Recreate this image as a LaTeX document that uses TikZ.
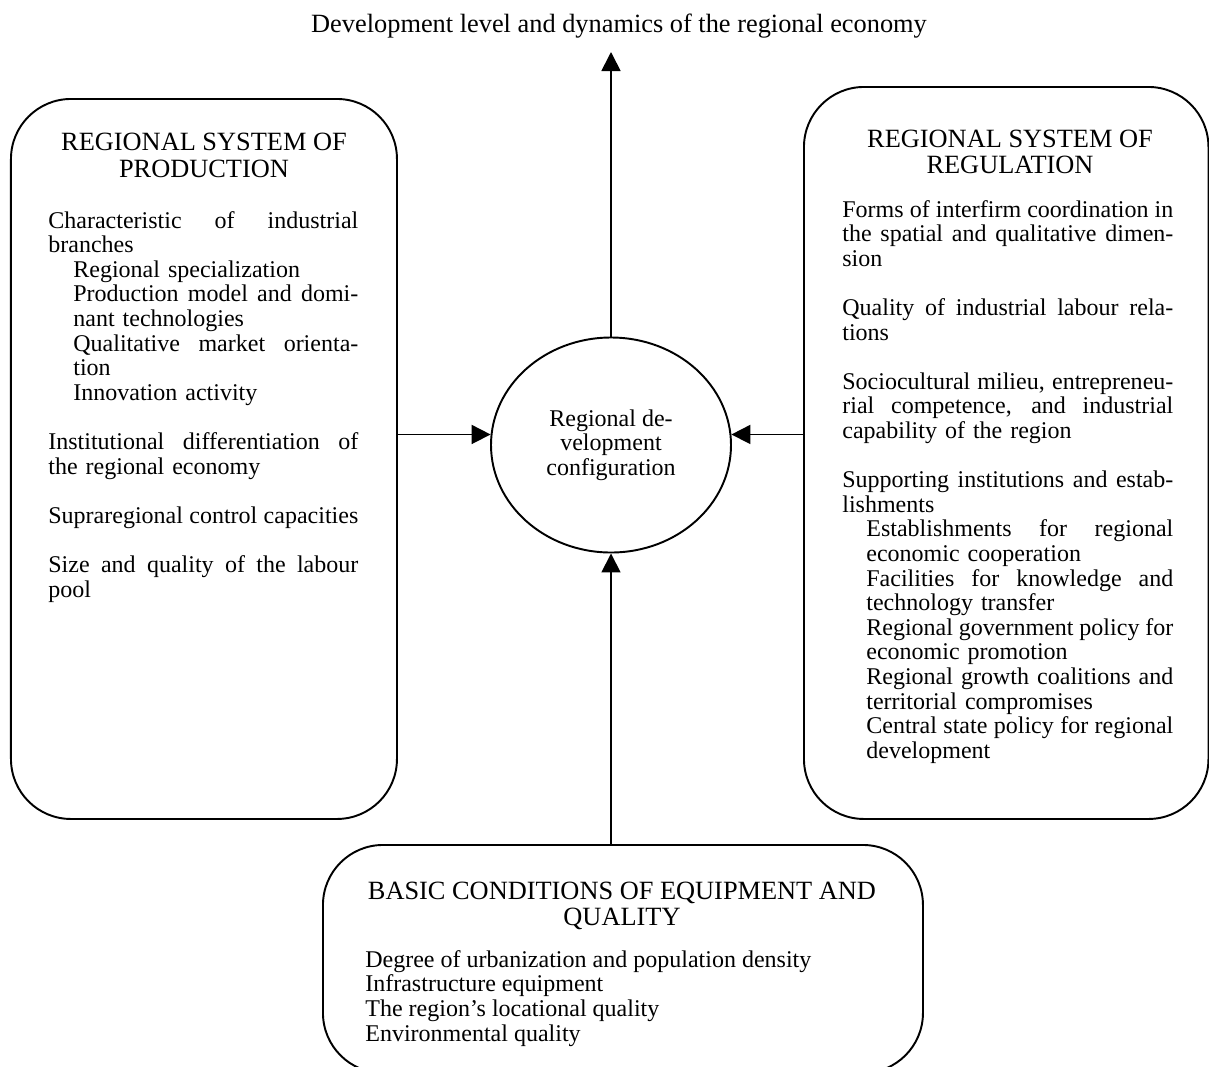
\documentclass[tikz,border=0pt]{standalone}
\usepackage{fontspec}
\setmainfont{Liberation Serif}
\usetikzlibrary{shapes.geometric,arrows.meta,positioning,calc}
\newcommand{\bodyfont}{\fontsize{13.66}{14}\selectfont}
\newcommand{\headfont}{\fontsize{15}{14.8}\selectfont}
\newcommand{\jl}[2]{{\spaceskip=0pt\xspaceskip=0pt\makebox[#1][s]{#2}}}

\begin{document}
\begin{tikzpicture}[
  box/.style={draw,line width=1.1pt,rounded corners=1.2cm,inner sep=0pt,anchor=north west},
  arr/.style={line width=1pt,-{Triangle[length=0.38cm,width=0.38cm]}},
  head/.style={font=\headfont,align=center,inner sep=0pt,anchor=base},
  body/.style={font=\bodyfont,align=left,inner sep=0pt,anchor=base west}]
\useasboundingbox (0,0) rectangle (24.18,-21.32);
\clip (0,0) rectangle (24.18,-21.32);

\node[head] (dev) at (12.38,-0.64) {Development level and dynamics of the regional economy};
\coordinate (tip) at (12.22,-1.04);

\node[box,minimum width=7.72cm,minimum height=14.4cm] (prod) at (0.2,-1.96) {};
\node[box,minimum width=8.09cm,minimum height=14.64cm] (reg) at (16.06,-1.72) {};
\node[box,minimum width=12cm,minimum height=4.56cm] (basic) at (6.44,-16.88) {};
\node[draw,ellipse,line width=1.1pt,minimum width=4.8cm,minimum height=4.3cm,inner sep=0pt,
  font=\bodyfont,align=center] (config) at (12.22,-8.9) {Regional de-\\velopment\\configuration};

\draw[arr] (config.north) -- (tip);
\draw[arr] (prod.east |- config.175) -- (config.175);
\draw[arr] (reg.west |- config.5) -- (config.5);
\draw[arr] (config.south |- basic.north) -- (config.south);

% production
\node[head] (prodhead) at (4.08,-3.54) {REGIONAL SYSTEM OF\\PRODUCTION};
\node[body,text width=6.2cm] (prodtext) at (0.96,-4.56) {%
\jl{6.2cm}{Characteristic of industrial}\\
branches\\
\hspace*{0.5cm}Regional specialization\\
\hspace*{0.5cm}\jl{5.7cm}{Production model and domi-}\\
\hspace*{0.5cm}nant technologies\\
\hspace*{0.5cm}\jl{5.7cm}{Qualitative market orienta-}\\
\hspace*{0.5cm}tion\\
\hspace*{0.5cm}Innovation activity\\[14pt]
\jl{6.2cm}{Institutional differentiation of}\\
the regional economy\\[14pt]
\jl{6.2cm}{Supraregional control capacities}\\[14pt]
\jl{6.2cm}{Size and quality of the labour}\\
pool};

% regulation
\node[head] (reghead) at (20.2,-3.46) {REGIONAL SYSTEM OF\\REGULATION};
\node[body,text width=6.62cm] (regtext) at (16.84,-4.34) {%
\jl{6.62cm}{Forms of interfirm coordination in}\\
\jl{6.62cm}{the spatial and qualitative dimen-}\\
sion\\[14pt]
\jl{6.62cm}{Quality of industrial labour rela-}\\
tions\\[14pt]
\jl{6.62cm}{Sociocultural milieu, entrepreneu-}\\
\jl{6.62cm}{rial competence, and industrial}\\
capability of the region\\[14pt]
\jl{6.62cm}{Supporting institutions and estab-}\\
lishments\\
\hspace*{0.48cm}\jl{6.14cm}{Establishments for regional}\\
\hspace*{0.48cm}economic cooperation\\
\hspace*{0.48cm}\jl{6.14cm}{Facilities for knowledge and}\\
\hspace*{0.48cm}technology transfer\\
\hspace*{0.48cm}\jl{6.14cm}{Regional government policy for}\\
\hspace*{0.48cm}economic promotion\\
\hspace*{0.48cm}\jl{6.14cm}{Regional growth coalitions and}\\
\hspace*{0.48cm}territorial compromises\\
\hspace*{0.48cm}\jl{6.14cm}{Central state policy for regional}\\
\hspace*{0.48cm}development};

% basic conditions
\node[head] (basichead) at (12.44,-18.5) {BASIC CONDITIONS OF EQUIPMENT AND\\QUALITY};
\node[body] (basictext) at (7.3,-20.82) {Degree of urbanization and population density\\
Infrastructure equipment\\
The region's locational quality\\
Environmental quality};
\end{tikzpicture}
\end{document}
